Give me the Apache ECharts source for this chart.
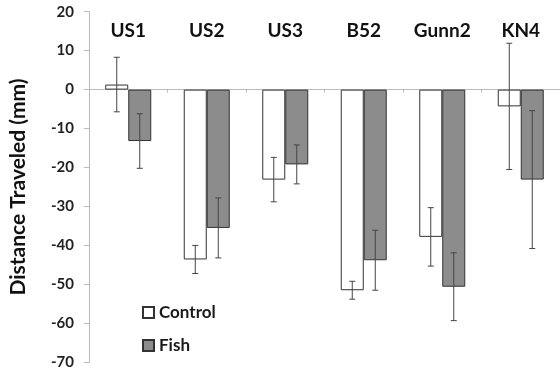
<!DOCTYPE html>
<html>
<head>
<meta charset="utf-8">
<script src="https://cdn.jsdelivr.net/npm/echarts@6/dist/echarts.min.js"></script>
<style>
html,body{margin:0;padding:0;background:#fff;}
#chart{width:560px;height:374px;}
</style>
</head>
<body>
<div id="chart"></div>
<script>
const categories = ['US1', 'US2', 'US3', 'B52', 'Gunn2', 'KN4'];
const controlValues = [1.3, -43.6, -23.1, -51.5, -37.8, -4.3];
const controlErrors = [7.0, 3.6, 5.7, 2.3, 7.5, 16.2];
const fishValues = [-13.2, -35.5, -19.2, -43.8, -50.6, -23.1];
const fishErrors = [7.0, 7.7, 5.0, 7.7, 8.7, 17.7];
const yTicks = [20, 10, 0, -10, -20, -30, -40, -50, -60, -70];

const FONT = 'Lato';
const BAR_W = 23;

const chart = echarts.init(document.getElementById('chart'));

function errItem(offset) {
  return function (params, api) {
    const i = api.value(0), v = api.value(1), e = api.value(2);
    const c = api.coord([i, v]);
    const t = api.coord([i, v + e]);
    const b = api.coord([i, v - e]);
    const x = c[0] + offset;
    const cap = 3;
    const style = { stroke: '#444', lineWidth: 1 };
    return {
      type: 'group',
      children: [
        { type: 'line', shape: { x1: x, y1: t[1], x2: x, y2: b[1] }, style: style },
        { type: 'line', shape: { x1: x - cap, y1: t[1], x2: x + cap, y2: t[1] }, style: style },
        { type: 'line', shape: { x1: x - cap, y1: b[1], x2: x + cap, y2: b[1] }, style: style }
      ]
    };
  };
}

chart.setOption({
  animation: false,
  backgroundColor: '#fff',
  textStyle: { fontFamily: FONT },
  grid: { left: 87, right: 0, top: 11.7, bottom: 11.7 },
  legend: {
    orient: 'vertical',
    left: 137,
    top: 299,
    itemWidth: 11,
    itemHeight: 11,
    itemGap: 16,
    icon: 'rect',
    textStyle: { fontFamily: FONT, fontSize: 17, fontWeight: 'bold', color: '#1a1a1a' },
    data: ['Control', 'Fish']
  },
  xAxis: [
    {
      type: 'category',
      data: categories,
      axisLine: { onZero: true, lineStyle: { color: '#bbbbbb', width: 1 } },
      axisTick: { show: true, length: 3, lineStyle: { color: '#bbbbbb' } },
      axisLabel: { show: false },
      splitLine: { show: false }
    },
    {
      type: 'category',
      data: categories,
      position: 'top',
      axisLine: { show: false, onZero: false },
      axisTick: { show: false },
      axisLabel: {
        inside: true,
        margin: 10,
        fontFamily: FONT,
        fontSize: 19,
        fontWeight: 'bold',
        color: '#111'
      }
    }
  ],
  yAxis: {
    type: 'value',
    min: -70,
    max: 20,
    interval: 10,
    name: 'Distance Traveled (mm)',
    nameLocation: 'middle',
    nameGap: 60,
    nameRotate: 90,
    nameTextStyle: { fontFamily: FONT, fontSize: 21, fontWeight: 'bold', color: '#111' },
    axisLine: { show: true, lineStyle: { color: '#bbbbbb', width: 1 } },
    axisTick: { show: true, length: 5, lineStyle: { color: '#bbbbbb' } },
    axisLabel: { margin: 15, fontFamily: FONT, fontSize: 15, fontWeight: 'bold', color: '#222' },
    splitLine: { show: false }
  },
  series: [
    {
      name: 'Control',
      type: 'bar',
      xAxisIndex: 0,
      data: controlValues,
      barWidth: BAR_W,
      barGap: '0%',
      itemStyle: { color: '#ffffff', borderColor: '#333', borderWidth: 1 }
    },
    {
      name: 'Fish',
      type: 'bar',
      xAxisIndex: 0,
      data: fishValues,
      barWidth: BAR_W,
      barGap: '0%',
      itemStyle: { color: '#8c8c8c', borderColor: '#333', borderWidth: 1 }
    },
    {
      type: 'custom',
      xAxisIndex: 0,
      z: 5,
      renderItem: errItem(-BAR_W / 2),
      data: categories.map((c, i) => [i, controlValues[i], controlErrors[i]]),
      encode: { x: 0, y: 1 },
      silent: true
    },
    {
      type: 'custom',
      xAxisIndex: 0,
      z: 5,
      renderItem: errItem(BAR_W / 2),
      data: categories.map((c, i) => [i, fishValues[i], fishErrors[i]]),
      encode: { x: 0, y: 1 },
      silent: true
    }
  ]
});
</script>
</body>
</html>
